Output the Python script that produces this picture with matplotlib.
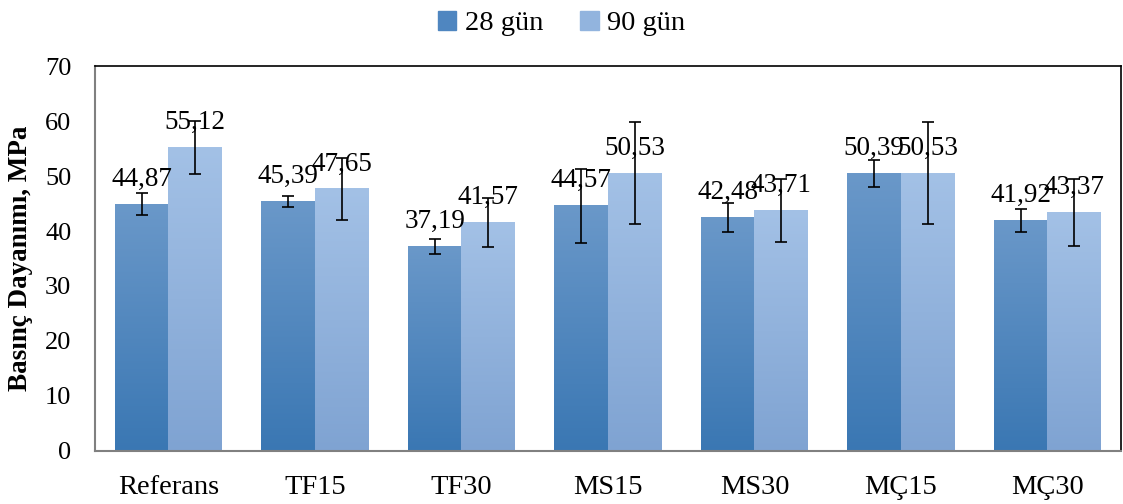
import numpy as np
import matplotlib.pyplot as plt
from matplotlib.colors import LinearSegmentedColormap
from matplotlib.patches import Patch

plt.rcParams['font.family'] = 'Liberation Serif'  # Times-like font as in the original

# Data
categories = ['Referans', 'TF15', 'TF30', 'MS15', 'MS30', 'MÇ15', 'MÇ30']
gun28 = [44.87, 45.39, 37.19, 44.57, 42.48, 50.39, 41.92]
gun90 = [55.12, 47.65, 41.57, 50.53, 43.71, 50.53, 43.37]
err28 = [1.95, 1.0, 1.4, 6.7, 2.6, 2.45, 2.1]
err90 = [4.8, 5.7, 4.4, 9.3, 5.8, 9.3, 6.1]

fig = plt.figure(figsize=(11.23, 5.04), dpi=100)
ax = fig.add_axes([0.0846, 0.1052, 0.9134, 0.7638])

x = np.arange(len(categories))
w = 0.365

b1 = ax.bar(x - w/2, gun28, w, color='none', zorder=2)
b2 = ax.bar(x + w/2, gun90, w, color='none', zorder=2)

#Gradient fills (lighter on top, darker at bottom)
cm28 = LinearSegmentedColormap.from_list('c28', ['#3A77B3', '#6A98C9'])
cm90 = LinearSegmentedColormap.from_list('c90', ['#7FA3D2', '#A3C1E6'])
grad = np.linspace(0, 1, 256).reshape(-1, 1)
for bars, cm in [(b1, cm28), (b2, cm90)]:
    for p in bars:
        x0, y0 = p.get_x(), p.get_y()
        ax.imshow(grad, cmap=cm, aspect='auto', origin='lower',
                  extent=[x0, x0 + p.get_width(), y0, y0 + p.get_height()], zorder=1)

ax.errorbar(x - w/2, gun28, yerr=err28, fmt='none', ecolor='black', elinewidth=1.2,
            capsize=4.5, capthick=1.2, zorder=3)
ax.errorbar(x + w/2, gun90, yerr=err90, fmt='none', ecolor='black', elinewidth=1.2,
            capsize=4.5, capthick=1.2, zorder=3)

for xs, vals in [(x - w/2, gun28), (x + w/2, gun90)]:
    for xi, v in zip(xs, vals):
        ax.annotate(f'{v:.2f}'.replace('.', ','), (xi, v), xytext=(0, 9),
                    textcoords='offset points', ha='center', va='bottom', fontsize=19.5, zorder=4)

ax.set_xlim(-0.5, len(categories) - 0.5)
ax.set_ylim(0, 70)
ax.set_yticks(range(0, 71, 10))
ax.set_xticks(x)
ax.set_xticklabels(categories)
ax.tick_params(axis='both', length=0)
ax.tick_params(axis='y', pad=17, labelsize=19)
ax.tick_params(axis='x', pad=17, labelsize=20.5)
ax.set_ylabel('Basınç Dayanımı, MPa', fontsize=19.5, fontweight='bold', labelpad=9)

for s in ['left', 'bottom']:
    ax.spines[s].set_color('#808080')
    ax.spines[s].set_linewidth(1.5)
for s in ['top', 'right']:
    ax.spines[s].set_color('black')
    ax.spines[s].set_linewidth(1.2)

handles = [Patch(color='#4F86C0', label='28 gün'), Patch(color='#92B4DE', label='90 gün')]
fig.legend(handles=handles, loc='upper center', bbox_to_anchor=(0.5, 1.03), ncol=2,
           frameon=False, fontsize=20.5, handlelength=0.65, handleheight=0.65,
           handletextpad=0.3, columnspacing=1.3)

fig.savefig('out.png', dpi=100)
